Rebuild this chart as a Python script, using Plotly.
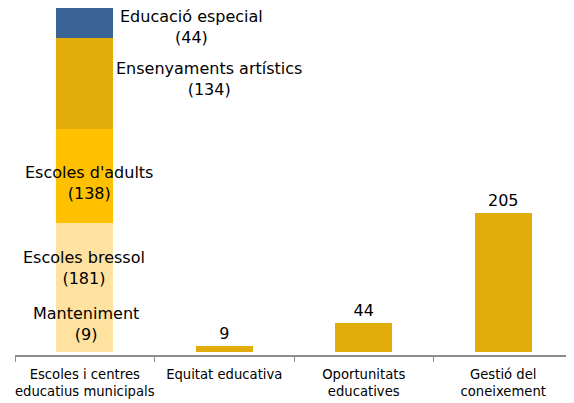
import plotly.graph_objects as go

categories = ["Escoles i centres<br>educatius municipals", "Equitat educativa",
              "Oportunitats<br>educatives", "Gestió del<br>coneixement"]
segment_names = ["Manteniment", "Escoles bressol", "Escoles d'adults",
                 "Ensenyaments artístics", "Educació especial"]
segment_values = [9, 181, 138, 134, 44]
other_values = [9, 44, 205]

segment_colors = ["#FFE1A0", "#FFE1A0", "#FFC000", "#E2AC0A", "#3A6496"]
gold = "#E2AC0A"
FONT = "DejaVu Sans"

fig = go.Figure()
for name, val, col in zip(segment_names, segment_values, segment_colors):
    fig.add_trace(go.Bar(x=[categories[0]], y=[val], name=name,
                         marker=dict(color=col, line=dict(width=0)),
                         hoverinfo="name+y"))

fig.add_trace(go.Bar(x=categories[1:], y=other_values, marker=dict(color=gold, line=dict(width=0)),
                     text=[str(v) for v in other_values], textposition="outside",
                     textfont=dict(size=16, color="#000000", family=FONT),
                     cliponaxis=False))

# label placement offsets (style): xshift px, yshift px
label_shift = {
    "Manteniment": (1, 25),
    "Escoles bressol": (-1, 17),
    "Escoles d'adults": (4, -7),
    "Ensenyaments artístics": (124, 5),
    "Educació especial": (107, -4),
}
cum = 0
for name, val in zip(segment_names, segment_values):
    mid = cum + val / 2
    cum += val
    xs, ys = label_shift[name]
    fig.add_annotation(x=0, y=mid, xref="x", yref="y",
                       text=f"{name}<br>({val})", showarrow=False,
                       xshift=xs, yshift=ys,
                       font=dict(size=16, color="#000000", family=FONT),
                       align="center")

fig.update_layout(
    width=566, height=395,
    margin=dict(l=7, r=1, t=0, b=48, autoexpand=False),
    paper_bgcolor="white", plot_bgcolor="white",
    barmode="stack", bargap=0.59, showlegend=False,
    font=dict(family=FONT, color="#000000"),
)
fig.update_xaxes(showline=True, linecolor="#8C8C8C", linewidth=2,
                 ticks="outside", tickson="boundaries", ticklen=5, tickcolor="#8C8C8C",
                 tickangle=0, automargin=False, ticklabelstandoff=6,
                 tickfont=dict(size=13.2, family=FONT, color="#000000"))
fig.update_yaxes(visible=False, range=[-3.7, 506], showgrid=False, zeroline=False)

fig.write_html("out.html")
